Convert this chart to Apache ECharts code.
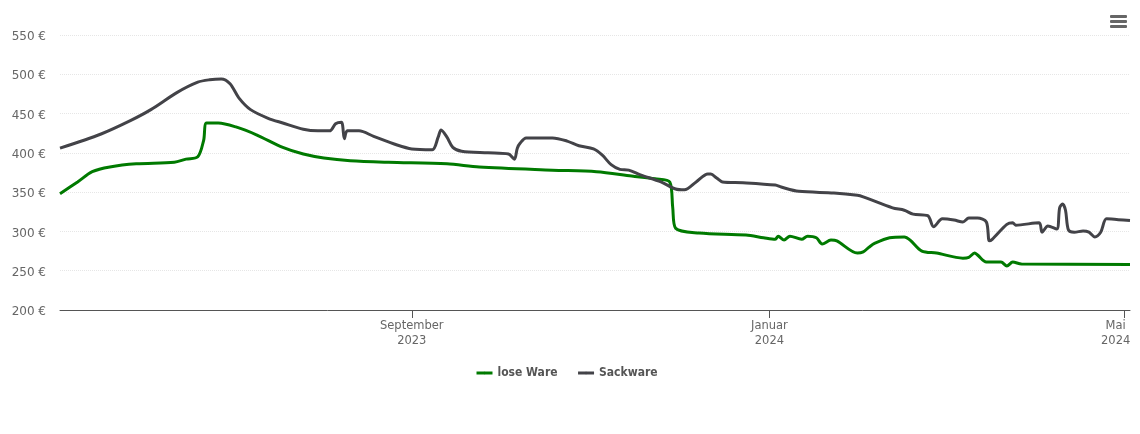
<!DOCTYPE html>
<html>
<head>
<meta charset="utf-8">
<style>html,body{margin:0;padding:0;background:#fff}#main{width:1140px;height:434px}</style>
<script src="https://cdn.jsdelivr.net/npm/echarts@6/dist/echarts.min.js"></script>
</head>
<body>
<div id="main"></div>
<script>
const yTicks = { min: 200, max: 550, step: 50 };
const xRange = ['2023-05-04', '2024-05-03'];
const tickDates = ['2023-09-01', '2024-01-01', '2024-05-01'];
const tickLabels = ['September\n2023', 'Januar\n2024', '{m|Mai}\n{m|2024}'];

const loseDates = ['2023-05-04','2023-05-10','2023-05-15','2023-05-21','2023-05-30','2023-06-12','2023-06-16','2023-06-20','2023-06-22','2023-06-23','2023-06-27','2023-07-03','2023-07-10','2023-07-19','2023-07-26','2023-08-02','2023-08-11','2023-08-24','2023-09-13','2023-09-24','2023-10-19','2023-11-03','2023-11-15','2023-11-23','2023-11-28','2023-11-29','2023-11-30','2023-12-08','2023-12-24','2023-12-30','2024-01-03','2024-01-04','2024-01-06','2024-01-08','2024-01-12','2024-01-14','2024-01-17','2024-01-19','2024-01-22','2024-01-24','2024-01-31','2024-02-02','2024-02-04','2024-02-06','2024-02-11','2024-02-16','2024-02-18','2024-02-22','2024-02-27','2024-03-07','2024-03-09','2024-03-11','2024-03-12','2024-03-15','2024-03-20','2024-03-22','2024-03-24','2024-03-27','2024-05-03'];
const loseValues = [348,363,376,382,386,388,392,395,416,438,438,433,423,407,398.5,393.5,390,388,386,382,378,376,370.5,367,363,331,304,298,295.5,292,290,294,289,294,290,294,292,284,289,288,272.5,274,280,285,292,293,289,275,272.5,266,267,272.5,270,261,261,256,261,258.5,258];

const sackDates = ['2023-05-04','2023-05-18','2023-05-28','2023-06-04','2023-06-13','2023-06-20','2023-06-24','2023-06-28','2023-07-01','2023-07-04','2023-07-08','2023-07-14','2023-07-19','2023-07-26','2023-07-31','2023-08-04','2023-08-06','2023-08-08','2023-08-09','2023-08-10','2023-08-14','2023-08-19','2023-08-27','2023-09-01','2023-09-08','2023-09-10','2023-09-11','2023-09-13','2023-09-15','2023-09-18','2023-09-27','2023-10-04','2023-10-06','2023-10-07','2023-10-08','2023-10-10','2023-10-19','2023-10-24','2023-10-28','2023-11-02','2023-11-05','2023-11-08','2023-11-11','2023-11-14','2023-11-18','2023-11-25','2023-11-30','2023-12-03','2023-12-07','2023-12-11','2023-12-12','2023-12-14','2023-12-16','2023-12-23','2024-01-03','2024-01-05','2024-01-11','2024-01-23','2024-01-31','2024-02-02','2024-02-12','2024-02-16','2024-02-19','2024-02-24','2024-02-26','2024-02-29','2024-03-04','2024-03-07','2024-03-09','2024-03-12','2024-03-15','2024-03-16','2024-03-17','2024-03-22','2024-03-24','2024-03-25','2024-04-02','2024-04-03','2024-04-05','2024-04-08','2024-04-09','2024-04-10','2024-04-11','2024-04-12','2024-04-14','2024-04-17','2024-04-19','2024-04-21','2024-04-23','2024-04-25','2024-04-29','2024-05-03'];
const sackValues = [406,424,441,455,477,490,493,494,488,470,455,444,438,430,428,428,437,439,418,428,428,421,410,405,404,420,429,420,407,402,400,398.5,392,406,412.5,419,419,415,409,405,397,385,379,378,372,363,354,353,363,373,373,368,363,362,359,356.5,351,349,346,344,330,327,322,320,306,316,314.5,312,317,317,312,288,290,309,311,308,311,299,307,303,330,335,327,302,299,300.5,299,293,299,316,315,314];

const ts = d => new Date(d + 'T00:00:00').getTime();
const toPairs = (dates, values) => dates.map((d, i) => [ts(d), values[i]]);
const tickValues = tickDates.map(ts);

const myChart = echarts.init(document.getElementById('main'), null, { renderer: 'canvas' });
myChart.setOption({
  animation: false,
  backgroundColor: '#fff',
  textStyle: { fontFamily: 'DejaVu Sans' },
  grid: { left: 60, right: 10, top: 35, bottom: 124, outerBoundsMode: 'none' },
  legend: {
    left: 470,
    top: 362,
    itemWidth: 16,
    itemHeight: 3,
    itemGap: 19,
    lineStyle: { width: 3 },
    textStyle: { color: '#555', fontWeight: 'bold', fontSize: 12, fontFamily: 'DejaVu Sans Condensed, DejaVu Sans' },
    data: ['lose Ware', 'Sackware']
  },
  xAxis: {
    type: 'value',
    min: ts(xRange[0]),
    max: ts(xRange[1]),
    splitLine: { show: false },
    axisLine: { lineStyle: { color: '#555', width: 1 } },
    axisTick: { show: true, length: 8, lineStyle: { color: '#555' }, customValues: tickValues },
    axisLabel: {
      color: '#666',
      fontSize: 11.5,
      lineHeight: 15,
      margin: 9,
      hideOverlap: false,
      customValues: tickValues,
      formatter: v => tickLabels[tickValues.indexOf(+v)],
      rich: { m: { color: '#666', fontSize: 11.5, lineHeight: 15, padding: [0, 17, 0, 0] } }
    }
  },
  yAxis: {
    type: 'value',
    min: yTicks.min,
    max: yTicks.max,
    interval: yTicks.step,
    axisLine: { show: false },
    axisTick: { show: false },
    axisLabel: {
      margin: 14,
      formatter: v => `{p|${v} €}`,
      rich: { p: { color: '#666', fontSize: 12, padding: [4, 0, 0, 0] } }
    },
    splitLine: { lineStyle: { color: '#e6e6e6', type: 'dotted', width: 1 } }
  },
  series: [
    { name: 'lose Ware', type: 'line', showSymbol: false, symbol: 'none', smooth: 0.3,
      lineStyle: { width: 3, color: '#007a00' }, itemStyle: { color: '#007a00' }, data: toPairs(loseDates, loseValues) },
    { name: 'Sackware', type: 'line', showSymbol: false, symbol: 'none', smooth: 0.3,
      lineStyle: { width: 3, color: '#434348' }, itemStyle: { color: '#434348' }, data: toPairs(sackDates, sackValues) }
  ],
  graphic: [16, 21, 26].map(y => ({
    type: 'rect',
    shape: { x: 1110, y: y - 1, width: 17, height: 3, r: 1 },
    style: { fill: '#666' }
  }))
});
</script>
</body>
</html>
